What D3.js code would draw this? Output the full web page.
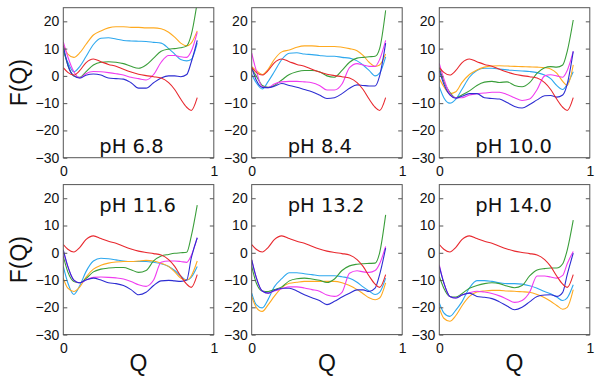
<!DOCTYPE html>
<html><head><meta charset="utf-8">
<script src="https://cdn.jsdelivr.net/npm/d3@7"></script>
<style>body{margin:0;background:#fff;}svg{display:block;}</style>
</head><body>
<script>
// ---- data ----
const Q = [0, 0.03, 0.07, 0.11, 0.15, 0.2, 0.25, 0.3, 0.35, 0.4, 0.45, 0.5, 0.55, 0.6, 0.65, 0.7, 0.74, 0.78, 0.82, 0.85, 0.89];
const panelLabels = ["pH 6.8", "pH 8.4", "pH 10.0", "pH 11.6", "pH 13.2", "pH 14.0"];
const yTicks = [20, 10, 0, -10, -20, -30];
const xTicks = [0, 1];
const seriesNames = ["red", "green", "blue", "magenta", "cyan", "orange"];

// reference curve (same in every panel)
const red = [3, 1.3, 0.3, 2, 4.8, 6.2, 5.2, 4.2, 3.5, 2.4, 1.4, 0.6, 0.1, -0.3, -0.8, -2.5, -5, -8.5, -11.5, -12.7, -8];

const green = [
  [10, 4, 0, -0.5, 1.5, 4, 5, 5.2, 5, 4.5, 3.5, 2.8, 4, 6.5, 9, 9.8, 10, 10.3, 11, 15, 27],
  [2.5, 0, -3.5, -4.2, -3.5, -1.5, 0.5, 1.5, 2, 2, 1.5, 0, -0.5, 2, 5, 6.5, 6.8, 7, 7.2, 10, 24],
  [3, -2, -6, -8, -7, -5.5, -3.5, -2.3, -2, -2.4, -2.2, -3.5, -4, -2.5, 1, 3, 3.4, 3.2, 4, 9, 20.5],
  [-1.3, -7, -10.5, -11, -9.5, -7, -6, -5.6, -5.4, -5.4, -6.2, -7.2, -6.5, -3, -1.2, -0.6, -0.2, 0, 0.2, 6, 17.5],
  [-5, -11, -14, -14.2, -13.5, -12.5, -10.3, -9.5, -9.3, -9.6, -10.1, -10.9, -9.6, -6.5, -4.8, -4.2, -4, -3.9, -3.8, 0, 13.9],
  [-8.7, -13, -16, -16.2, -15, -13, -12, -11.3, -11, -11.3, -12.2, -12.8, -12, -8.5, -6.3, -5.8, -5.6, -5.6, -4, 1, 12]
];
const blue = [
  [11, 4, 0, -0.8, 0.2, 0.7, 0.3, -0.8, -1, -1.2, -2.5, -4.5, -4.5, -2.5, -0.8, 0, 0, -0.3, 0.5, 5, 13],
  [3, -1.5, -4.2, -4.3, -3.8, -2.8, -3.5, -4.2, -5, -5.8, -7, -8.3, -8, -6.5, -4.5, -3.3, -3.5, -3.7, -3.7, 0, 12],
  [2, -3, -7, -8.2, -7.5, -6.5, -6.5, -8, -8.3, -8.5, -9.8, -11.2, -11.8, -10.5, -8.8, -7.3, -7.2, -7.8, -7, -3, 9],
  [1.1, -5, -10, -11, -10, -9.3, -10, -11, -11.3, -12, -13.5, -15.4, -14.5, -12, -10.3, -10.1, -10.3, -10.5, -10, -2, 5.5],
  [-2.6, -9, -14, -14.8, -13.8, -13, -13, -14, -15.4, -16.5, -17.5, -19, -17.8, -16.2, -14.8, -13.6, -13.6, -14.2, -13, -8, 1.7],
  [-5, -11, -16, -16.6, -15.5, -14.8, -16, -16.3, -16.8, -18, -19.5, -20.9, -20, -18, -16, -15.5, -15.4, -16, -14.5, -8, -0.1]
];
const magenta = [
  [12.5, 7, 1.5, -0.8, 0.8, 1.6, 1.5, 1.2, 0.8, 0.3, -0.5, -1, -1.5, 0.5, 5, 7.5, 7.5, 7, 6.8, 9, 16],
  [8.3, 2, -4, -4.3, -3, -2.2, -2, -2, -2.2, -2.5, -3.5, -5.2, -5.2, -3, 3, 4.5, 4, 3.5, 3.5, 6, 13],
  [4.6, -1, -6.5, -8, -8, -7, -6.5, -6.3, -6, -6, -6.8, -8, -9, -8.5, -5, 0, 0.4, 0, -0.5, 2, 9],
  [0.5, -5, -10, -11, -10, -9, -8.9, -9, -9.2, -9.6, -10.5, -11.7, -12.3, -10, -3.5, -3, -3, -3.2, -3.5, -1, 5.5],
  [-2.6, -9, -14, -14.8, -14, -13.2, -12.5, -12.5, -12.9, -13.5, -14.1, -15.5, -16, -14.5, -7.5, -6.6, -7, -7.2, -6.5, -4, 2.3],
  [-4.4, -11, -16, -16.6, -15.5, -14.7, -14.1, -14.4, -14.9, -15.8, -17, -18.2, -17.5, -14.5, -8.5, -8.5, -8.9, -9.3, -8.3, -4, 0.5]
];
const cyan = [
  [9, 5, 1.5, 3.5, 7, 11.5, 13.8, 14, 13.5, 13, 12.8, 12.7, 12.6, 12.3, 12, 10, 8, 6, 5.5, 6, 12],
  [0.5, -2.5, -4.8, -2, 1.5, 6, 8.3, 8.5, 8, 7.8, 7.5, 7.2, 7.2, 6.8, 6.5, 5.5, 4, 2, 0, 1, 7],
  [-4, -8, -10, -8.5, -5, -0.5, 2, 2.8, 2.8, 2.5, 2.2, 2, 1.8, 1.6, 1.2, 0.3, -1, -3.5, -5, -3, 1.5],
  [-5, -11, -15.3, -12, -7, -3, -2, -2.2, -2.6, -3, -3.2, -3.2, -3.2, -3.5, -4, -5, -6.5, -8.5, -10, -9, -5],
  [-14.8, -19, -20.2, -17, -12.5, -9.5, -7.3, -7.3, -7.7, -8, -8.4, -8.4, -8.4, -8.8, -9.3, -10.8, -12.5, -14, -15.3, -14.5, -9.3],
  [-18.4, -22, -23.3, -21, -18, -12.9, -10.2, -10.2, -10.5, -11, -11.3, -11.3, -11.5, -12.1, -13, -14.2, -15, -16.2, -17.5, -16.5, -11.7]
];
const orange = [
  [11.5, 8, 6.8, 8.5, 11.5, 15, 16.5, 17.6, 18, 18, 17.8, 17.8, 17.6, 17.6, 17.3, 16, 14.2, 12, 11, 12, 16.5],
  [3.4, 2, 0.5, 2.5, 6, 8.8, 9.5, 10.5, 11, 11, 10.8, 10.8, 10.8, 10.5, 10, 9.2, 7.5, 5, 3.5, 4, 8],
  [-1, -4, -6.5, -5.8, -2.5, 0.5, 2.2, 3.2, 3.6, 3.7, 3.6, 3.5, 3.4, 3.3, 3.2, 3, 2.5, 1, -2, -3.5, 4],
  [-9.3, -13, -14.2, -12.5, -9, -6, -4.6, -3.8, -3.4, -3.2, -3.2, -3, -2.8, -3, -3.8, -5, -7, -9.3, -10, -8.5, -3],
  [-16, -20, -21.5, -19, -16, -12.8, -11.2, -10.8, -10.5, -10.5, -10.5, -10.5, -10.5, -11, -12, -13.5, -15, -16.5, -17.2, -16.6, -11],
  [-20.2, -24, -25.1, -23, -19.5, -16, -14.4, -14, -13.8, -13.8, -14, -14.1, -14.3, -14.5, -15.3, -16.5, -17.8, -19.3, -20.7, -20, -13.5]
];

// ---- styles ----
const colors = {red: "#e8282e", green: "#3a9e3a", blue: "#2d2dd2", magenta: "#f03cf0", cyan: "#2ea8ee", orange: "#ffaa20"};
const lefts = [63.3, 251.7, 439.3];
const tops = [7.7, 184.6];
const W = 150.5, H = 150;
const frameColor = "#555";

const svg = d3.select("body").append("svg").attr("width", 600).attr("height", 384);
const defs = svg.append("defs");

panelLabels.forEach((label, i) => {
  const col = i % 3, row = Math.floor(i / 3);
  const L = lefts[col], T = tops[row];
  const x = d3.scaleLinear().domain([0, 1]).range([L, L + W]);
  const y = d3.scaleLinear().domain([-30, 25]).range([T + H, T]);

  const cid = "clip" + i;
  defs.append("clipPath").attr("id", cid).append("rect")
    .attr("x", L).attr("y", T).attr("width", W).attr("height", H);

  const g = svg.append("g");
  const seriesData = {
    red: red, green: green[i], blue: blue[i], magenta: magenta[i], cyan: cyan[i], orange: orange[i]
  };
  const line = d3.line().x((d, k) => x(Q[k])).y(d => y(d)).curve(d3.curveMonotoneX);
  const lg = g.append("g").attr("clip-path", `url(#${cid})`);
  ["cyan", "orange", "green", "magenta", "blue", "red"].forEach(name => {
    lg.append("path").datum(seriesData[name])
      .attr("d", line).attr("fill", "none")
      .attr("stroke", colors[name]).attr("stroke-width", 1.1);
  });

  // axes
  const ax = g.append("g").attr("transform", `translate(${L},0)`)
    .call(d3.axisLeft(y).tickValues(yTicks).tickSizeInner(-4).tickSizeOuter(0).tickPadding(4));
  const axR = g.append("g").attr("transform", `translate(${L + W},0)`)
    .call(d3.axisRight(y).tickValues(yTicks).tickSizeInner(-4).tickSizeOuter(0).tickFormat(""));
  const axB = g.append("g").attr("transform", `translate(0,${T + H})`)
    .call(d3.axisBottom(x).tickValues(xTicks).tickSizeInner(0).tickSizeOuter(0).tickPadding(8).tickFormat(d3.format("d")));
  [ax, axR, axB].forEach(a => {
    a.select(".domain").remove();
    a.selectAll(".tick line").attr("stroke", frameColor);
    a.selectAll("text").attr("font-family", "'Liberation Sans', Arial, sans-serif").attr("font-size", 14).attr("fill", "#111");
  });

  g.append("rect").attr("x", L).attr("y", T).attr("width", W).attr("height", H)
    .attr("fill", "none").attr("stroke", frameColor).attr("stroke-width", 1);

  g.append("text").attr("x", L + 36).attr("y", row === 0 ? T + 145.5 : T + 27)
    .attr("font-family", "'DejaVu Sans', sans-serif").attr("font-size", 19.5)
    .attr("fill", "#111").text(label);
});

// axis titles
tops.forEach(T => {
  svg.append("text").attr("transform", `translate(27,${T + 75}) rotate(-90)`)
    .attr("text-anchor", "middle").attr("font-family", "'Liberation Sans', Arial, sans-serif")
    .attr("font-size", 23).attr("fill", "#111").text("F(Q)");
});
lefts.forEach(L => {
  svg.append("text").attr("x", L + W / 2).attr("y", 371)
    .attr("text-anchor", "middle").attr("font-family", "'Liberation Sans', Arial, sans-serif")
    .attr("font-size", 23).attr("fill", "#111").text("Q");
});
</script>
</body></html>
